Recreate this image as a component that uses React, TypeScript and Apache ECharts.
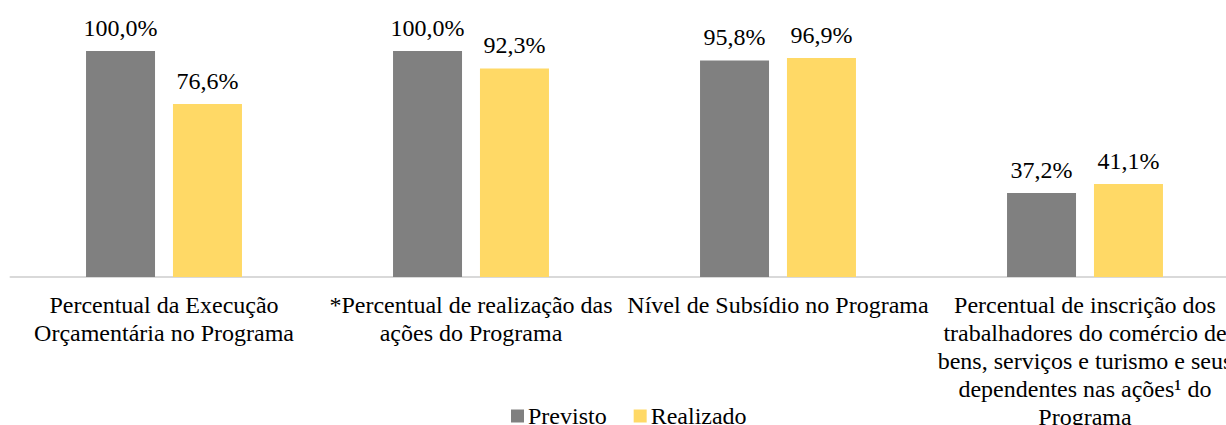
import React, { useEffect, useRef } from "react";
import * as echarts from "echarts";

const categories = [
  "Percentual da Execução\nOrçamentária no Programa",
  "*Percentual de realização das\nações do Programa",
  "Nível de Subsídio no Programa",
  "Percentual de inscrição dos\ntrabalhadores do comércio de\nbens, serviços e turismo e seus\ndependentes nas ações¹ do\nPrograma",
];
const previsto = [100.0, 100.0, 95.8, 37.2];
const realizado = [76.6, 92.3, 96.9, 41.1];

const FONT = "Liberation Serif";

export default function App() {
  const ref = useRef<HTMLDivElement>(null);
  useEffect(() => {
    if (!ref.current) return;
    const chart = echarts.init(ref.current, undefined, { renderer: "svg" });
    const fmt = (p: any) => Number(p.value).toFixed(1).replace(".", ",") + "%";
    chart.setOption({
      animation: false,
      textStyle: { fontFamily: FONT },
      grid: { left: 10.5, width: 1228, top: 51, height: 226, containLabel: false, outerBoundsMode: "none" },
      legend: {
        left: 506,
        top: 399,
        itemWidth: 13,
        itemHeight: 13,
        itemGap: 27,
        icon: "rect",
        textStyle: { fontFamily: FONT, fontSize: 24, color: "#000", padding: [0, 0, 0, -1] },
        data: ["Previsto", "Realizado"],
      },
      xAxis: {
        type: "category",
        data: categories,
        axisLine: { show: true, lineStyle: { color: "#d9d9d9", width: 2 } },
        axisTick: { show: false },
        axisLabel: {
          interval: 0,
          margin: 14,
          fontFamily: FONT,
          fontSize: 24,
          lineHeight: 28,
          color: "#000",
          align: "center",
        },
      },
      yAxis: { type: "value", min: 0, max: 100, show: false, splitLine: { show: false } },
      series: [
        {
          name: "Previsto",
          type: "bar",
          data: previsto,
          barWidth: 69,
          barGap: "26%",
          itemStyle: { color: "#808080" },
          label: { show: true, position: "top", distance: 11, formatter: fmt, fontFamily: FONT, fontSize: 24, color: "#000" },
        },
        {
          name: "Realizado",
          type: "bar",
          data: realizado,
          barWidth: 69,
          itemStyle: { color: "#FFD966" },
          label: { show: true, position: "top", distance: 11, formatter: fmt, fontFamily: FONT, fontSize: 24, color: "#000" },
        },
      ],
    });
    return () => chart.dispose();
  }, []);
  return (
    <div style={{ position: "fixed", left: 0, top: 0, width: 1226, height: 425, overflow: "hidden", background: "#fff" }}>
      <div ref={ref} style={{ width: 1245, height: 425 }} />
    </div>
  );
}
